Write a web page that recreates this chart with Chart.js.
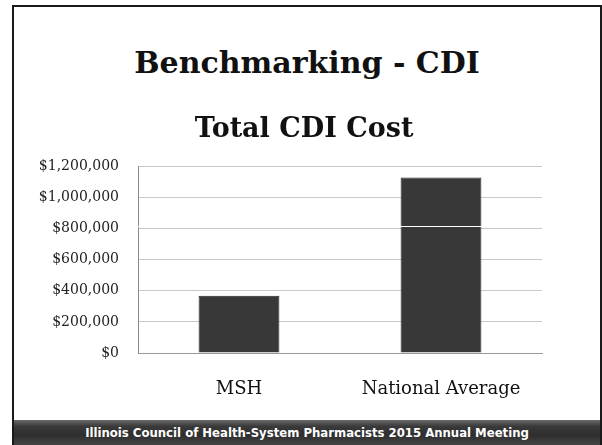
<!DOCTYPE html>
<html>
<head>
<meta charset="utf-8">
<script src="https://cdn.jsdelivr.net/npm/chart.js@4/dist/chart.umd.min.js"></script>
<style>
  body { margin: 0; background: #fff; }
  #page { position: relative; width: 602px; height: 445px; overflow: hidden; }
  #frame { position: absolute; left: 12px; top: 5px; width: 590px; height: 445px; box-sizing: border-box; border: 2px solid #1a1a1a; border-bottom: none; }
  #title { position: absolute; left: 12px; width: 590px; top: 45px; text-align: center;
    font-family: "DejaVu Serif", serif; font-weight: bold; font-size: 30px; color: #111; }
  #footer { position: absolute; left: 14px; top: 420px; width: 586px; height: 25px;
    background: linear-gradient(to bottom, #6a6a6a 0%, #3a3a3a 25%, #2e2e2e 60%, #444 100%);
    color: #fff; text-align: center; font-family: "DejaVu Sans", sans-serif; font-weight: bold;
    font-size: 11.7px; line-height: 27px; }
  #wrap { position: absolute; left: 0; top: 0; width: 602px; height: 445px; }
</style>
</head>
<body>
<div id="page">
  <div id="frame"></div>
  <div id="title">Benchmarking - CDI</div>
  <div id="footer">Illinois Council of Health-System Pharmacists 2015 Annual Meeting</div>
  <div id="wrap"><canvas id="chart"></canvas></div>
</div>
<script>
var categories = ['MSH', 'National Average'];
var totalCost = [368000, 1128000];
var chartTitle = 'Total CDI Cost';
var yMax = 1200000;
var yStep = 200000;
// faint white scan line that crosses the picture just above the $800,000 grid line
var scanLineValue = 815000;

var scanLine = {
	id: 'scanLine',
	afterDatasetsDraw: function(chart) {
		var ctx = chart.ctx;
		var y = Math.round(chart.scales.y.getPixelForValue(scanLineValue)) + 0.5;
		ctx.save();
		ctx.strokeStyle = '#ffffff';
		ctx.lineWidth = 1;
		ctx.beginPath();
		ctx.moveTo(chart.chartArea.left - 2, y);
		ctx.lineTo(chart.chartArea.right, y);
		ctx.stroke();
		ctx.restore();
	}
};

var c = new Chart(document.getElementById('chart'), {
	type: 'bar',
	data: {
		labels: categories,
		datasets: [{
			label: chartTitle,
			data: totalCost,
			backgroundColor: '#383838',
			borderColor: '#262626',
			borderWidth: 1,
			barPercentage: 0.4,
			categoryPercentage: 1
		}]
	},
	options: {
		responsive: true,
		maintainAspectRatio: false,
		animation: false,
		layout: { padding: { top: 100, left: 14, right: 8, bottom: 42 } },
		plugins: {
			legend: { display: false },
			tooltip: { enabled: false },
			title: {
				display: true,
				text: chartTitle,
				color: '#111',
				font: { family: 'DejaVu Serif', size: 27, weight: 'bold' },
				padding: { top: 14, bottom: 20 }
			}
		},
		scales: {
			x: {
				grid: { display: false },
				border: { display: true, color: '#999999', width: 1 },
				ticks: { color: '#111', padding: 18, font: { family: 'DejaVu Serif', size: 18 } },
				afterFit: function(s) { s.height = 50; }
			},
			y: {
				min: 0,
				max: yMax,
				grid: { color: '#c8c8c8', lineWidth: 1, drawTicks: false },
				border: { display: true, color: '#8a8a8a', width: 1 },
				ticks: {
					stepSize: yStep,
					color: '#222',
					padding: 19,
					font: { family: 'DejaVu Serif', size: 14 },
					callback: function(v) { return '$' + v.toLocaleString('en-US'); }
				},
				afterFit: function(s) { s.width = 124; }
			},
			// empty right-hand margin so the chart title stays centred on the slide
			y2: {
				position: 'right',
				min: 0,
				max: yMax,
				grid: { display: false },
				border: { display: false },
				ticks: { display: false },
				afterFit: function(s) { s.width = 52; }
			}
		}
	},
	plugins: [scanLine]
});
</script>
</body>
</html>
